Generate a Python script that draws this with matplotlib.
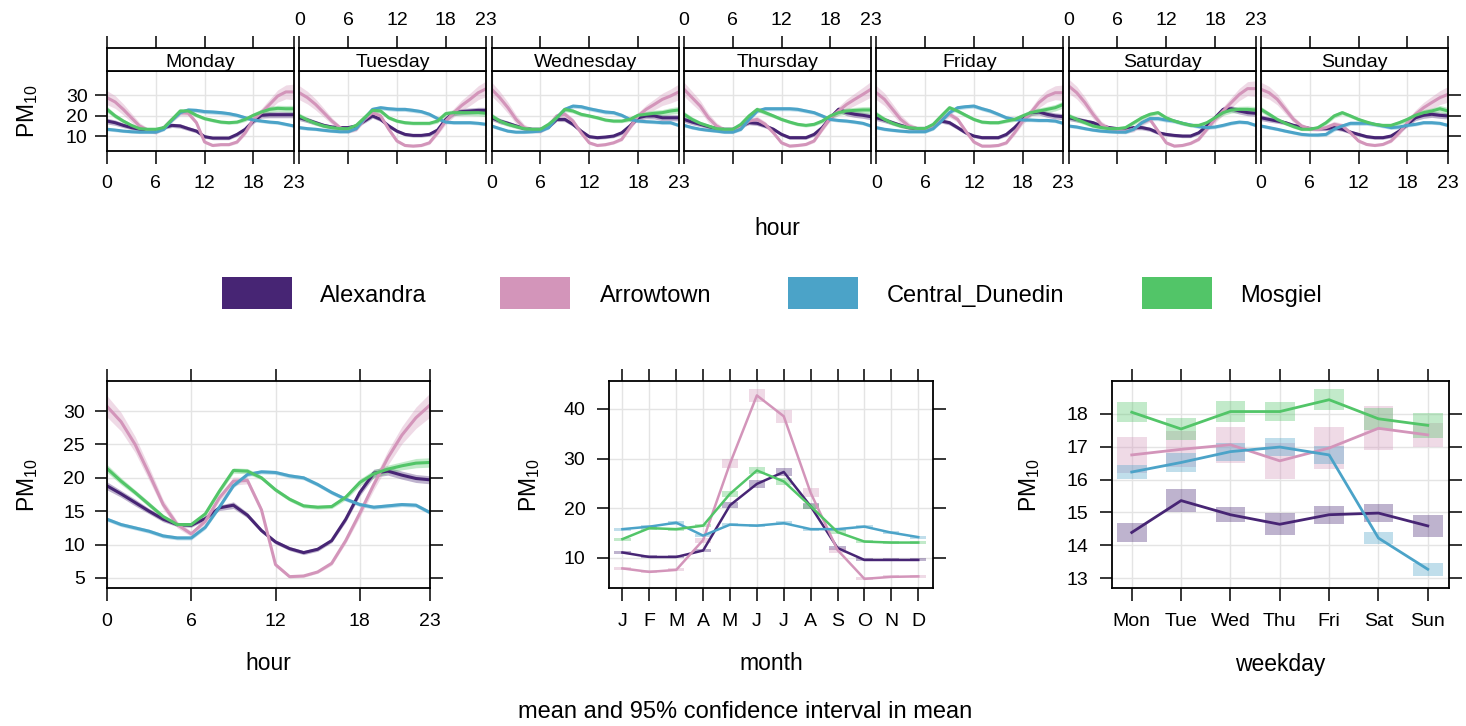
import numpy as np
import matplotlib
matplotlib.use("Agg")
import matplotlib.pyplot as plt
from matplotlib.patches import Rectangle

plt.rcParams['font.family'] = ['Liberation Sans', 'DejaVu Sans']
plt.rcParams['mathtext.default'] = 'regular'

# ---------------- data ----------------
sites = ["Alexandra", "Arrowtown", "Central_Dunedin", "Mosgiel"]
colors = ["#472574", "#D395BA", "#4BA3C8", "#52C568"]

days = ["Monday", "Tuesday", "Wednesday", "Thursday", "Friday", "Saturday", "Sunday"]
hours = list(range(24))
hour_ticks = [0, 6, 12, 18, 23]

# day x hour means (7 days x 24 hours)
alexandra_dayhour = [
    [17.3, 16.5, 15.2, 14.1, 13.3, 12.8, 12.4, 14.1, 15.2, 14.9, 13.6, 12.4, 9.7, 9.0, 9.0, 9.0, 10.8, 13.3, 17.3, 20.1, 20.4, 20.4, 20.4, 20.4],
    [18.9, 17.8, 16.5, 15.2, 14.4, 14.1, 14.1, 14.9, 17.3, 19.8, 18.1, 14.9, 12.4, 10.8, 10.3, 10.3, 10.8, 12.9, 18.1, 21.4, 21.9, 22.2, 22.5, 22.5],
    [18.9, 17.3, 16.2, 14.9, 13.7, 13.3, 13.3, 14.4, 18.1, 18.1, 15.7, 12.4, 9.7, 9.2, 9.5, 10.0, 11.6, 14.9, 18.9, 19.8, 19.8, 18.9, 18.9, 18.9],
    [18.1, 16.8, 15.7, 14.6, 13.6, 13.3, 13.3, 14.9, 16.5, 16.2, 14.9, 13.3, 10.8, 9.2, 9.2, 9.2, 10.8, 14.1, 18.9, 23.0, 21.4, 20.6, 20.1, 19.4],
    [18.9, 17.8, 16.5, 15.2, 14.1, 13.7, 13.7, 14.9, 17.3, 16.5, 14.1, 11.6, 10.0, 9.2, 9.2, 9.2, 10.8, 14.1, 18.1, 21.4, 21.7, 20.6, 19.8, 19.4],
    [18.9, 18.1, 17.3, 16.5, 14.9, 14.1, 13.6, 13.3, 14.1, 14.1, 13.3, 11.6, 10.8, 10.3, 10.0, 10.0, 11.6, 14.9, 18.9, 23.0, 23.3, 22.2, 21.4, 21.1],
    [18.9, 18.1, 17.3, 16.5, 15.2, 14.4, 13.7, 13.6, 13.6, 14.1, 13.3, 11.9, 10.8, 9.7, 9.2, 9.2, 10.0, 12.4, 15.7, 18.9, 20.1, 20.6, 20.1, 19.8],
]
arrowtown_dayhour = [
    [28.7, 26.6, 23.0, 18.9, 14.9, 12.9, 11.9, 14.1, 18.1, 21.4, 21.1, 16.5, 7.1, 5.4, 5.8, 5.8, 7.1, 11.6, 18.1, 21.4, 25.4, 29.5, 31.5, 31.5],
    [31.1, 28.7, 25.4, 21.4, 17.3, 14.1, 12.4, 13.3, 18.1, 21.4, 19.8, 13.3, 7.6, 5.4, 5.1, 5.4, 6.7, 11.6, 17.3, 21.4, 25.0, 27.9, 31.1, 33.1],
    [32.8, 28.7, 23.8, 18.1, 14.1, 12.8, 12.4, 14.9, 19.8, 20.6, 17.3, 11.6, 6.7, 5.4, 5.8, 6.7, 8.4, 14.1, 19.8, 23.0, 25.4, 27.9, 29.5, 31.5],
    [32.8, 28.7, 24.6, 18.9, 14.9, 12.9, 12.4, 14.1, 17.3, 18.1, 15.7, 11.6, 6.7, 5.1, 5.4, 5.9, 7.6, 13.3, 18.9, 22.2, 25.4, 27.9, 30.3, 32.8],
    [31.1, 27.9, 23.0, 18.1, 14.9, 13.6, 13.3, 14.6, 18.1, 20.6, 18.1, 12.4, 7.1, 5.1, 5.1, 5.4, 6.7, 11.6, 17.3, 21.4, 26.3, 29.5, 31.1, 31.1],
    [34.4, 31.1, 26.3, 20.6, 15.7, 13.6, 12.8, 12.4, 13.3, 16.5, 18.1, 12.4, 6.7, 5.1, 5.4, 6.4, 8.4, 13.3, 18.1, 22.2, 26.3, 30.3, 33.1, 33.1],
    [32.8, 31.1, 27.9, 23.0, 18.1, 14.9, 13.6, 13.3, 14.1, 15.7, 14.9, 11.6, 7.6, 5.9, 5.4, 5.9, 7.6, 11.6, 16.5, 20.6, 23.8, 26.3, 28.7, 30.3],
]
central_dunedin_dayhour = [
    [13.3, 12.9, 12.4, 12.1, 11.9, 11.9, 11.9, 13.3, 17.8, 21.4, 22.7, 22.5, 21.9, 21.7, 21.4, 20.9, 20.1, 18.9, 17.8, 17.3, 16.8, 16.5, 15.7, 14.9],
    [14.1, 13.6, 13.3, 12.8, 12.4, 12.1, 12.1, 13.6, 18.5, 23.0, 23.8, 23.3, 23.0, 23.0, 22.5, 21.9, 20.6, 18.5, 16.8, 16.5, 16.5, 16.5, 16.2, 15.7],
    [14.9, 13.6, 12.4, 11.9, 11.9, 12.1, 12.4, 14.1, 18.9, 23.0, 24.6, 24.3, 23.3, 22.5, 21.7, 21.4, 20.1, 18.1, 17.3, 17.0, 16.8, 16.5, 16.5, 15.2],
    [15.2, 14.1, 13.3, 12.8, 12.4, 11.9, 11.9, 13.3, 18.1, 22.2, 23.3, 23.3, 23.3, 23.3, 23.0, 22.2, 21.4, 19.8, 18.1, 17.6, 17.3, 16.8, 16.2, 14.9],
    [14.1, 13.3, 12.8, 12.4, 12.1, 12.1, 12.1, 13.6, 17.3, 21.4, 23.8, 24.3, 24.6, 23.3, 22.2, 20.6, 18.9, 18.1, 17.8, 17.8, 17.6, 17.6, 17.3, 16.2],
    [14.9, 14.4, 13.6, 12.9, 12.4, 12.1, 11.9, 11.9, 13.3, 16.5, 18.5, 18.5, 17.8, 17.3, 16.2, 15.4, 14.6, 14.1, 14.4, 15.2, 16.2, 16.8, 16.5, 15.2],
    [14.9, 14.1, 13.3, 12.4, 11.6, 10.8, 10.5, 10.5, 10.8, 13.3, 14.9, 16.2, 16.2, 16.2, 15.7, 14.9, 14.1, 14.4, 15.2, 15.7, 16.5, 16.5, 16.2, 15.2],
]
mosgiel_dayhour = [
    [23.0, 19.8, 17.3, 15.2, 13.6, 13.3, 13.3, 14.1, 18.1, 22.2, 22.2, 20.1, 18.5, 17.6, 16.8, 16.5, 16.8, 18.1, 20.1, 21.7, 23.0, 23.5, 23.3, 23.3],
    [19.8, 17.8, 16.2, 14.9, 14.1, 13.6, 13.6, 15.2, 18.9, 22.5, 22.2, 18.9, 17.3, 16.5, 16.2, 16.2, 16.2, 17.3, 20.9, 21.4, 21.4, 21.4, 21.4, 21.1],
    [19.8, 17.3, 15.7, 14.6, 13.6, 13.3, 13.3, 15.7, 18.9, 23.0, 22.2, 20.6, 19.8, 18.9, 17.8, 17.3, 17.3, 18.1, 20.1, 20.6, 21.1, 21.4, 22.2, 22.7],
    [20.6, 18.1, 16.2, 14.9, 13.6, 13.3, 13.3, 15.7, 19.8, 23.0, 21.4, 19.8, 18.1, 16.8, 15.7, 15.2, 15.7, 17.3, 19.8, 21.4, 22.2, 22.5, 22.7, 22.7],
    [20.6, 18.1, 16.2, 14.9, 14.1, 13.7, 13.7, 15.7, 19.8, 23.8, 22.2, 20.1, 18.1, 16.8, 16.5, 16.5, 17.3, 18.1, 19.8, 21.4, 22.2, 23.0, 23.8, 25.4],
    [19.8, 18.1, 16.5, 14.9, 14.1, 13.6, 13.6, 14.1, 16.5, 18.9, 20.6, 21.4, 18.9, 17.3, 16.2, 15.2, 15.2, 16.5, 18.9, 21.4, 22.7, 23.0, 23.0, 22.7],
    [23.0, 20.6, 18.1, 16.2, 14.6, 13.3, 13.3, 14.1, 16.5, 19.8, 21.4, 19.8, 18.1, 16.8, 15.7, 15.2, 15.2, 16.5, 18.1, 20.1, 21.4, 22.2, 23.3, 22.2],
]
# day x hour CI half widths (per hour)
alexandra_dayhour_ci = [1.4, 1.3, 1.1, 1.0, 0.9, 0.8, 0.8, 0.8, 1.0, 1.1, 1.0, 0.9, 0.8, 0.8, 0.8, 0.8, 0.9, 1.0, 1.2, 1.4, 1.5, 1.5, 1.5, 1.5]
arrowtown_dayhour_ci = [3.4, 3.1, 2.7, 2.2, 1.6, 1.1, 1.0, 1.0, 1.3, 1.5, 1.3, 1.0, 0.8, 0.6, 0.6, 0.6, 0.8, 1.1, 1.6, 2.1, 2.6, 3.0, 3.4, 3.8]
central_dunedin_dayhour_ci = [0.8, 0.8, 0.7, 0.7, 0.7, 0.7, 0.7, 0.8, 0.9, 1.0, 1.0, 1.0, 1.0, 1.0, 1.0, 0.9, 0.9, 0.9, 0.8, 0.8, 0.8, 0.8, 0.8, 0.8]
mosgiel_dayhour_ci = [1.4, 1.2, 1.0, 0.9, 0.8, 0.7, 0.7, 0.8, 1.0, 1.1, 1.0, 0.9, 0.8, 0.8, 0.8, 0.8, 0.8, 1.0, 1.2, 1.4, 1.5, 1.5, 1.6, 1.7]

# hour means
alexandra_hour = [18.8, 17.6, 16.3, 15.0, 13.8, 13.0, 12.9, 13.9, 15.5, 15.9, 14.4, 12.1, 10.4, 9.4, 8.8, 9.3, 10.6, 13.8, 17.8, 20.7, 21.0, 20.4, 19.9, 19.7]
arrowtown_hour = [30.7, 28.4, 25.0, 20.6, 16.0, 13.0, 11.6, 13.5, 17.0, 19.5, 19.6, 15.2, 7.0, 5.2, 5.3, 5.9, 7.2, 10.6, 14.7, 19.0, 23.0, 26.4, 29.0, 30.9]
central_dunedin_hour = [13.8, 13.0, 12.5, 12.0, 11.3, 11.0, 11.0, 12.6, 15.6, 18.8, 20.5, 20.9, 20.8, 20.3, 20.0, 19.0, 17.8, 16.8, 16.0, 15.6, 15.8, 16.0, 15.9, 14.8]
mosgiel_hour = [21.4, 19.5, 17.8, 16.0, 14.2, 13.0, 13.0, 14.6, 18.0, 21.1, 21.0, 20.0, 18.2, 16.8, 15.8, 15.6, 15.7, 17.1, 19.3, 20.6, 21.3, 21.8, 22.2, 22.3]
alexandra_hour_ci = [0.6, 0.5, 0.5, 0.4, 0.4, 0.3, 0.3, 0.3, 0.4, 0.5, 0.4, 0.3, 0.3, 0.3, 0.3, 0.3, 0.3, 0.4, 0.5, 0.6, 0.6, 0.6, 0.6, 0.6]
arrowtown_hour_ci = [1.6, 1.4, 1.2, 1.0, 0.7, 0.5, 0.4, 0.4, 0.5, 0.6, 0.5, 0.4, 0.3, 0.2, 0.2, 0.2, 0.3, 0.4, 0.6, 0.8, 1.1, 1.3, 1.6, 1.8]
central_dunedin_hour_ci = [0.3, 0.3, 0.3, 0.3, 0.3, 0.3, 0.3, 0.3, 0.3, 0.3, 0.3, 0.3, 0.3, 0.3, 0.3, 0.3, 0.3, 0.3, 0.3, 0.3, 0.3, 0.3, 0.3, 0.3]
mosgiel_hour_ci = [0.6, 0.5, 0.4, 0.4, 0.3, 0.3, 0.3, 0.3, 0.4, 0.4, 0.4, 0.3, 0.3, 0.3, 0.3, 0.3, 0.3, 0.4, 0.5, 0.6, 0.6, 0.6, 0.7, 0.7]

# month means
months = list(range(1, 13))
month_labels = ["J", "F", "M", "A", "M", "J", "J", "A", "S", "O", "N", "D"]
alexandra_month = [11.1, 10.2, 10.2, 11.5, 20.6, 24.9, 27.3, 20.4, 12.0, 9.6, 9.6, 9.6]
arrowtown_month = [7.9, 7.2, 7.6, 13.6, 29.0, 42.7, 38.5, 23.1, 11.6, 5.8, 6.2, 6.3]
central_dunedin_month = [15.8, 16.3, 17.1, 14.5, 16.7, 16.5, 17.0, 15.8, 15.8, 16.3, 15.1, 14.2]
mosgiel_month = [13.8, 16.0, 15.8, 16.5, 22.9, 27.6, 25.4, 20.4, 15.2, 13.3, 13.1, 13.1]
alexandra_month_ci = [0.3, 0.3, 0.3, 0.3, 0.6, 0.8, 0.8, 0.6, 0.4, 0.3, 0.3, 0.3]
arrowtown_month_ci = [0.3, 0.3, 0.3, 0.5, 1.0, 1.3, 1.3, 0.9, 0.5, 0.3, 0.3, 0.3]
central_dunedin_month_ci = [0.3, 0.3, 0.4, 0.3, 0.3, 0.3, 0.4, 0.3, 0.3, 0.3, 0.3, 0.3]
mosgiel_month_ci = [0.3, 0.3, 0.3, 0.3, 0.6, 0.8, 0.7, 0.5, 0.4, 0.3, 0.3, 0.3]

# weekday means
weekdays = list(range(1, 8))
weekday_labels = ["Mon", "Tue", "Wed", "Thu", "Fri", "Sat", "Sun"]
alexandra_wday = [14.39, 15.36, 14.93, 14.64, 14.93, 14.98, 14.59]
arrowtown_wday = [16.75, 16.92, 17.06, 16.57, 16.96, 17.56, 17.36]
central_dunedin_wday = [16.23, 16.52, 16.85, 16.99, 16.75, 14.22, 13.27]
mosgiel_wday = [18.05, 17.54, 18.07, 18.07, 18.43, 17.85, 17.65]
alexandra_wday_ci = [0.28, 0.34, 0.22, 0.33, 0.27, 0.28, 0.33]
arrowtown_wday_ci = [0.56, 0.55, 0.55, 0.55, 0.63, 0.67, 0.36]
central_dunedin_wday_ci = [0.22, 0.30, 0.27, 0.27, 0.27, 0.19, 0.19]
mosgiel_wday_ci = [0.31, 0.34, 0.32, 0.29, 0.32, 0.34, 0.37]

dayhour_data = [alexandra_dayhour, arrowtown_dayhour, central_dunedin_dayhour, mosgiel_dayhour]
dayhour_ci = [alexandra_dayhour_ci, arrowtown_dayhour_ci, central_dunedin_dayhour_ci, mosgiel_dayhour_ci]
hour_data = [alexandra_hour, arrowtown_hour, central_dunedin_hour, mosgiel_hour]
hour_ci = [alexandra_hour_ci, arrowtown_hour_ci, central_dunedin_hour_ci, mosgiel_hour_ci]
month_data = [alexandra_month, arrowtown_month, central_dunedin_month, mosgiel_month]
month_ci = [alexandra_month_ci, arrowtown_month_ci, central_dunedin_month_ci, mosgiel_month_ci]
wday_data = [alexandra_wday, arrowtown_wday, central_dunedin_wday, mosgiel_wday]
wday_ci = [alexandra_wday_ci, arrowtown_wday_ci, central_dunedin_wday_ci, mosgiel_wday_ci]

# ---------------- layout ----------------
W, H = 1466, 726
fig = plt.figure(figsize=(W / 100, H / 100), dpi=100)


def ax_px(x0, y0, x1, y1):
    return fig.add_axes([x0 / W, 1 - y1 / H, (x1 - x0) / W, (y1 - y0) / H])


def fpos(x, y):
    return x / W, 1 - y / H


TICK_FS = 14
LAB_FS = 16.5
GRID_C = "#e4e4e4"
TLEN = 9
SPINE_W = 1.3


def style_spines(ax):
    for s in ax.spines.values():
        s.set_linewidth(SPINE_W)
        s.set_color("black")


ylab = "PM$_{10}$"

# ---- top: day x hour ----
pw = 187.0
gap = 5.33
for i, day in enumerate(days):
    l = 107 + i * (pw + gap)
    ax = ax_px(l, 71, l + pw, 151)
    st = ax_px(l, 48, l + pw, 71)
    for k in range(4):
        v = np.array(dayhour_data[k][i])
        c = np.array(dayhour_ci[k])
        ax.fill_between(hours, v - c, v + c, color=colors[k], alpha=0.35, lw=0)
    for k in range(4):
        ax.plot(hours, dayhour_data[k][i], color=colors[k], lw=2.2, solid_joinstyle="round")
    ax.set_xlim(0, 23)
    ax.set_ylim(2.7, 41.7)
    ax.set_xticks(hour_ticks)
    ax.set_yticks([10, 20, 30])
    ax.grid(True, color=GRID_C, lw=1.0)
    ax.set_axisbelow(True)
    ax.tick_params(axis="x", direction="out", length=TLEN, width=1.1, labelsize=TICK_FS,
                   pad=8, bottom=True, labelbottom=(i % 2 == 0))
    ax.tick_params(axis="y", direction="out", length=TLEN, width=1.1, labelsize=TICK_FS, pad=5,
                   left=(i == 0), labelleft=(i == 0), right=(i == 6), labelright=False)
    style_spines(ax)
    # strip
    st.set_xlim(0, 23)
    st.set_ylim(0, 1)
    st.set_yticks([])
    st.set_xticks(hour_ticks)
    st.xaxis.tick_top()
    st.tick_params(axis="x", direction="out", length=TLEN, width=1.1, labelsize=TICK_FS,
                   pad=5, top=True, labeltop=(i % 2 == 1), bottom=False, labelbottom=False)
    st.text(11.5, 0.38, day, ha="center", va="center", fontsize=14)
    style_spines(st)

fig.text(*fpos(777, 228), "hour", ha="center", va="center", fontsize=LAB_FS)
fig.text(*fpos(28, 111), ylab, ha="center", va="center", rotation=90, fontsize=LAB_FS)

# ---- legend ----
leg_rect_x = [222, 500, 788, 1142]
leg_text_x = [320, 600, 887, 1240]
for k in range(4):
    x0, y0 = fpos(leg_rect_x[k], 309)
    fig.patches.append(Rectangle((x0, y0), 70 / W, 32 / H, transform=fig.transFigure,
                                 facecolor=colors[k], edgecolor="none"))
    fig.text(*fpos(leg_text_x[k], 296), sites[k], ha="left", va="center", fontsize=17)

# ---- bottom: hour ----
ax = ax_px(107, 381, 430, 588)
for k in range(4):
    v = np.array(hour_data[k]); c = np.array(hour_ci[k])
    ax.fill_between(hours, v - c, v + c, color=colors[k], alpha=0.35, lw=0)
for k in range(4):
    ax.plot(hours, hour_data[k], color=colors[k], lw=2.2)
ax.set_xlim(0, 23)
ax.set_ylim(3.5, 34.5)
ax.set_xticks(hour_ticks)
ax.set_yticks([5, 10, 15, 20, 25, 30])
ax.grid(True, color=GRID_C, lw=1.0)
ax.set_axisbelow(True)
ax.tick_params(direction="out", length=TLEN, width=1.1, labelsize=TICK_FS, top=True, right=True,
               labeltop=False, labelright=False)
ax.tick_params(axis="x", pad=9)
ax.tick_params(axis="y", pad=7)
style_spines(ax)
fig.text(*fpos(268, 664), "hour", ha="center", va="center", fontsize=LAB_FS)
fig.text(*fpos(28, 485), ylab, ha="center", va="center", rotation=90, fontsize=LAB_FS)

# ---- bottom: month ----
ax = ax_px(609, 381, 933, 588)
for k in range(4):
    v = np.array(month_data[k]); c = np.array(month_ci[k])
    ax.bar(months, 2 * c, bottom=v - c, width=0.6, color=colors[k], alpha=0.35, lw=0)
for k in range(4):
    ax.plot(months, month_data[k], color=colors[k], lw=1.8)
ax.set_xlim(0.5, 12.55)
ax.set_ylim(3.96, 45.6)
ax.set_xticks(months)
ax.set_xticklabels(month_labels)
ax.set_yticks([10, 20, 30, 40])
ax.grid(True, color=GRID_C, lw=1.0)
ax.set_axisbelow(True)
ax.tick_params(direction="out", length=TLEN, width=1.1, labelsize=TICK_FS, top=True, right=True,
               labeltop=False, labelright=False)
ax.tick_params(axis="x", pad=9)
ax.tick_params(axis="y", pad=8)
style_spines(ax)
fig.text(*fpos(771, 664), "month", ha="center", va="center", fontsize=LAB_FS)
fig.text(*fpos(530, 485), ylab, ha="center", va="center", rotation=90, fontsize=LAB_FS)

# ---- bottom: weekday ----
ax = ax_px(1112, 381, 1449, 588)
for k in range(4):
    v = np.array(wday_data[k]); c = np.array(wday_ci[k])
    ax.bar(weekdays, 2 * c, bottom=v - c, width=0.6, color=colors[k], alpha=0.35, lw=0)
for k in range(4):
    ax.plot(weekdays, wday_data[k], color=colors[k], lw=2.0)
ax.set_xlim(0.6, 7.43)
ax.set_ylim(12.7, 19.0)
ax.set_xticks(weekdays)
ax.set_xticklabels(weekday_labels)
ax.set_yticks([13, 14, 15, 16, 17, 18])
ax.grid(True, color=GRID_C, lw=1.0)
ax.set_axisbelow(True)
ax.tick_params(direction="out", length=TLEN, width=1.1, labelsize=TICK_FS, top=True, right=True,
               labeltop=False, labelright=False)
ax.tick_params(axis="x", pad=9)
ax.tick_params(axis="y", pad=8)
style_spines(ax)
fig.text(*fpos(1280, 664), "weekday", ha="center", va="center", fontsize=LAB_FS)
fig.text(*fpos(1030, 485), ylab, ha="center", va="center", rotation=90, fontsize=LAB_FS)

fig.text(*fpos(745, 712), "mean and 95% confidence interval in mean", ha="center", va="center",
         fontsize=17)

fig.savefig("out.png", dpi=100)
